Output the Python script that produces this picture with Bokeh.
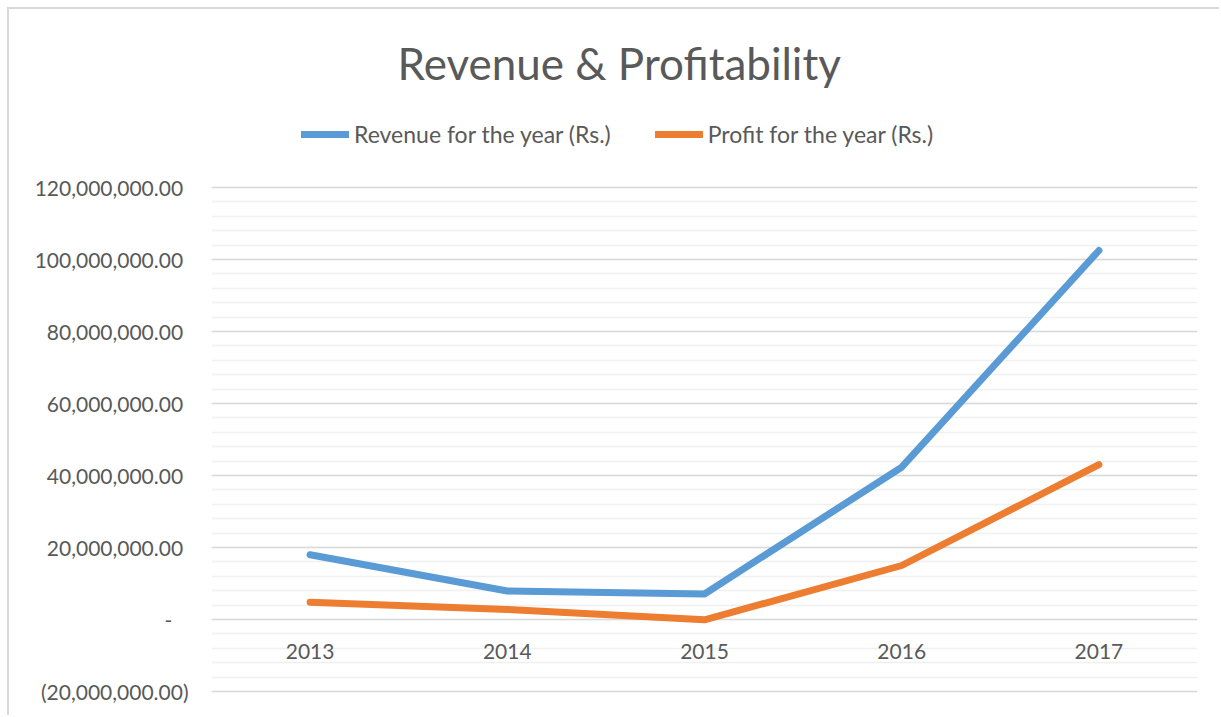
from bokeh.plotting import figure
from bokeh.models import (FactorRange, Range1d, FixedTicker, CustomJSTickFormatter,
                          Legend, LegendItem, Title)
from bokeh.core.properties import value
from bokeh.embed import file_html
from bokeh.resources import INLINE

years = ["2013", "2014", "2015", "2016", "2017"]
revenue = [18000000, 7900000, 7100000, 42300000, 102500000]
profit = [4800000, 2800000, -100000, 15000000, 43000000]
major_ticks = [-20000000, 0, 20000000, 40000000, 60000000, 80000000, 100000000, 120000000]
minor_ticks = [v for v in range(-20000000, 120000001, 4000000)]

FONT = "Lato"
TXT = "#595959"

# layout (pixels)
W, H = 1212, 708
LEFT, RIGHT, TOP, BOTTOM = 202, 24, 100, 24
AXIS_TOP_PX = 178          # canvas px of the 120M gridline
AXIS_BOTTOM_PX = 682       # canvas px of the -20M gridline
y_min, y_max = -20000000, 120000000
units_per_px = (y_max - y_min) / (AXIS_BOTTOM_PX - AXIS_TOP_PX)
y_end = y_max + (AXIS_TOP_PX - TOP) * units_per_px
y_start = y_min - ((H - BOTTOM) - AXIS_BOTTOM_PX) * units_per_px

p = figure(width=W, height=H, output_backend="svg", toolbar_location=None,
           x_range=FactorRange(factors=years, range_padding=0),
           y_range=Range1d(y_start, y_end),
           min_border_left=LEFT, min_border_right=RIGHT, min_border_top=TOP,
           min_border_bottom=BOTTOM, title=None)
p.styles = {"margin-left": "7px", "margin-top": "7px",
            "border-left": "2px solid #D9D9D9", "border-top": "2px solid #D9D9D9"}
p.outline_line_color = None

p.title = Title(text="Revenue &  Profitability", align="left", offset=186, standoff=42,
                text_font=FONT, text_font_size="44px", text_font_style="normal",
                text_color=TXT)

r1 = p.line(years, revenue, line_width=7, line_color="#5B9BD5", line_cap="round", line_join="round")
r2 = p.line(years, profit, line_width=7, line_color="#ED7D31", line_cap="round", line_join="round")

p.text(x=years, y=[0] * len(years), text=years, text_font=value(FONT), text_font_size="21px",
       text_color=TXT, text_align="center", text_baseline="middle", y_offset=32)

p.xaxis.visible = False
p.xgrid.visible = False

ax = p.yaxis[0]
ax.ticker = FixedTicker(ticks=major_ticks, minor_ticks=minor_ticks)
ax.formatter = CustomJSTickFormatter(code="""
const v = tick;
if (Math.abs(v) < 1) return "-\u00a0\u00a0\u00a0";
const s = Math.abs(v).toLocaleString('en-US', {minimumFractionDigits: 2, maximumFractionDigits: 2});
return v < 0 ? "(" + s + ")" : s + "\u00a0";
""")
ax.axis_line_color = None
ax.major_tick_line_color = None
ax.minor_tick_line_color = None
ax.major_label_text_font = FONT
ax.major_label_text_font_size = "21px"
ax.major_label_text_color = TXT
ax.major_label_standoff = 17

p.ygrid.grid_line_color = "#D9D9D9"
p.ygrid.grid_line_width = 1.5
p.ygrid.minor_grid_line_color = "#F0F0F0"
p.ygrid.minor_grid_line_width = 1.5

legend = Legend(items=[LegendItem(label="Revenue for the year (Rs.)", renderers=[r1]),
                       LegendItem(label="Profit for the year (Rs.)", renderers=[r2])],
                orientation="horizontal", location=(90, 545),
                label_text_font=FONT, label_text_font_size="23px", label_text_color=TXT,
                glyph_width=48, label_standoff=5, spacing=44, border_line_color=None,
                background_fill_alpha=0, margin=0, padding=4)
p.add_layout(legend, "center")

open("out.html", "w").write(file_html(p, INLINE))
